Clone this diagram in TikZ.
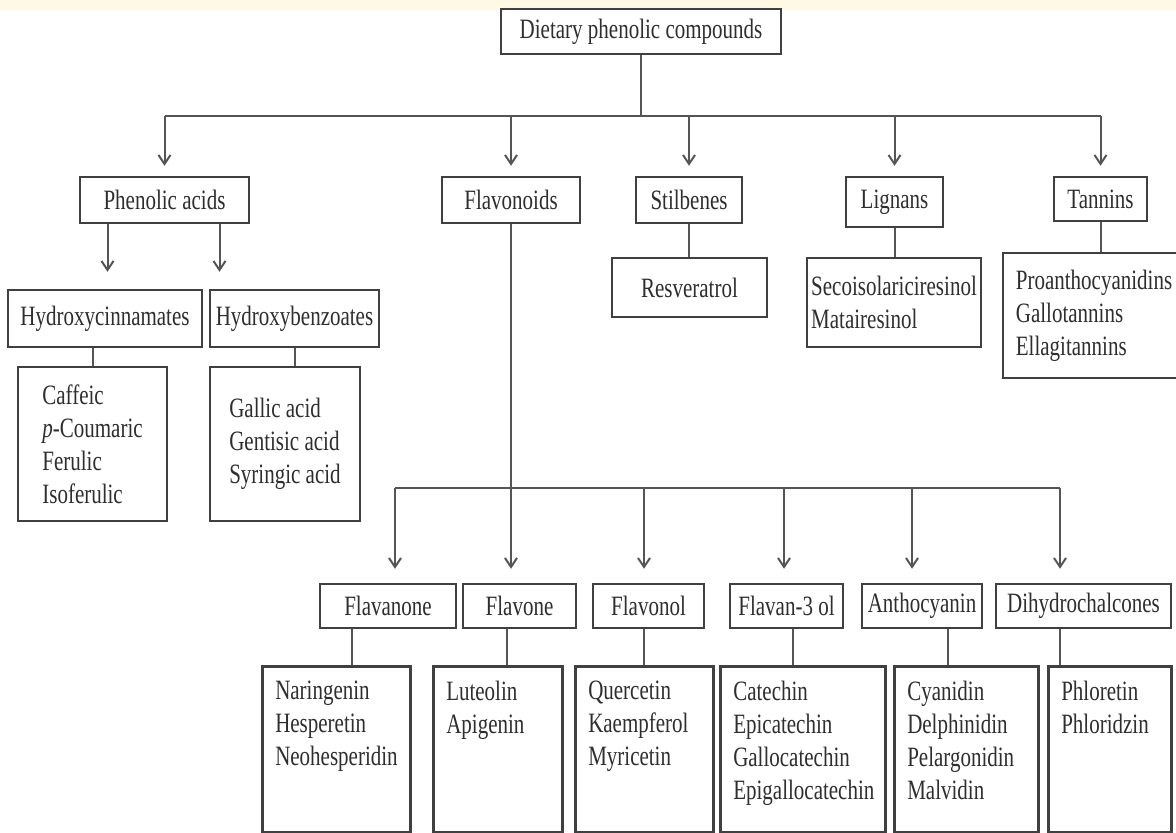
\documentclass[tikz,border=0pt]{standalone}
\usepackage{fontspec}
\setmainfont{Liberation Serif}[FakeStretch=0.75]
\usetikzlibrary{arrows.meta}
\hyphenpenalty=10000
\definecolor{boxc}{HTML}{404040}
\definecolor{linec}{HTML}{555555}
\definecolor{txtc}{HTML}{2E2E2E}
\definecolor{cream}{HTML}{FFF8E4}

\tikzset{
    box/.style={draw=boxc, line width=2.5pt, fill=white, inner sep=0pt,
        text=txtc, font=\fontsize{28}{33}\selectfont},
    listbox/.style={box, align=left},
    tallbox/.style={box, anchor=north west, align=left,
        inner xsep=13pt, inner ysep=15pt, text depth=117pt},
    wire/.style={draw=linec, line width=2pt},
    flow/.style={wire, -{Straight Barb[length=9pt,width=12pt]}},
}

\begin{document}
\begin{tikzpicture}[x=1pt, y=-1pt]

    \useasboundingbox (0,0) rectangle (1176,833);
    \clip (0,0) rectangle (1176,833);
    \fill [white] (0,0) rectangle (1176,833);
    \fill [cream] (0,0) rectangle (1176,9.5);

    \node [box, minimum width=280, minimum height=45] (root) at (641,31.5) {Dietary phenolic compounds};

    \node [box, minimum width=169, minimum height=46] (phen) at (164.5,200) {Phenolic acids};
    \node [box, minimum width=138, minimum height=46] (flav) at (511,200) {Flavonoids};
    \node [box, minimum width=106, minimum height=46] (stil) at (689,200) {Stilbenes};
    \node [box, minimum width=97, minimum height=50] (lign) at (894.5,202) {Lignans};
    \node [box, minimum width=93, minimum height=44] (tann) at (1100.5,199) {Tannins};

    \node [box, minimum width=194, minimum height=57] (hcin) at (105,318.5) {Hydroxycinnamates};
    \node [box, minimum width=169, minimum height=57] (hben) at (294.5,318.5) {Hydroxybenzoates};

    \node [listbox, minimum width=149, minimum height=154] (caff) at (92.5,444)
        {Caffeic\\\textit{p}-Coumaric\\Ferulic\\Isoferulic};
    \node [listbox, minimum width=150, minimum height=154] (gall) at (285,444)
        {Gallic acid\\Gentisic acid\\Syringic acid};
    \node [listbox, minimum width=155, minimum height=59] (resv) at (689.5,287.5) {Resveratrol};
    \node [listbox, minimum width=174, minimum height=89] (seco) at (894,302.5)
        {Secoisolariciresinol\\Matairesinol};
    \node [listbox, minimum width=182, minimum height=125] (proa) at (1094,315.5)
        {Proanthocyanidins\\Gallotannins\\Ellagitannins};

    \node [box, minimum width=136, minimum height=44] (fnon) at (388,606) {Flavanone};
    \node [box, minimum width=113, minimum height=44] (fone) at (519.5,606) {Flavone};
    \node [box, minimum width=111, minimum height=44] (fnol) at (648.5,606) {Flavonol};
    \node [box, minimum width=113, minimum height=44] (fan3) at (786.5,606) {Flavan-3 ol};
    \node [box, minimum width=120, minimum height=44] (anth) at (922,606) {Anthocyanin};
    \node [box, minimum width=175, minimum height=44] (dihy) at (1083.5,606) {Dihydrochalcones};

    \node [tallbox, minimum width=148, text width=122] (nari) at (261,665)
        {Naringenin\\Hesperetin\\Neohesperidin};
    \node [tallbox, minimum width=129, text width=103] (lute) at (432,665)
        {Luteolin\\Apigenin};
    \node [tallbox, minimum width=138, text width=112] (quer) at (574,665)
        {Quercetin\\Kaempferol\\Myricetin};
    \node [tallbox, minimum width=165, text width=139] (cate) at (719,665)
        {Catechin\\Epicatechin\\Gallocatechin\\Epigallocatechin};
    \node [tallbox, minimum width=144, text width=118] (cyan) at (893,665)
        {Cyanidin\\Delphinidin\\Pelargonidin\\Malvidin};
    \node [tallbox, minimum width=123, text width=97] (phlo) at (1047,665)
        {Phloretin\\Phloridzin};

    \coordinate (bus1) at (641,116);
    \coordinate (bus2) at (511,488);

    \draw [wire] (root.south) -- (bus1);
    \draw [wire] (phen.north |- bus1) -- (tann.north |- bus1);
    \foreach \n in {phen,flav,stil,lign,tann}
        \draw [flow, shorten >=10pt] (\n.north |- bus1) -- (\n.north);

    \draw [flow, shorten >=17pt] ([xshift=-57pt]phen.south) -- ([xshift=-57pt]phen.south |- hcin.north);
    \draw [flow, shorten >=17pt] ([xshift=55pt]phen.south) -- ([xshift=55pt]phen.south |- hben.north);

    \draw [wire] (caff.north |- hcin.south) -- (caff.north);
    \draw [wire] (hben.south) -- (hben.south |- gall.north);
    \draw [wire] (stil.south) -- (stil.south |- resv.north);
    \draw [wire] (lign.south) -- (lign.south |- seco.north);
    \draw [wire] (tann.south) -- (tann.south |- proa.north);

    \draw [wire] (flav.south) -- (bus2);
    \draw [wire] ([xshift=7pt]fnon.north |- bus2) -- ([xshift=-23.5pt]dihy.north |- bus2);
    \foreach \n/\dx in {fnon/7, fone/-8.5, fnol/-4.5, fan3/-2.5, anth/-10, dihy/-23.5}
        \draw [flow, shorten >=14pt] ([xshift=\dx pt]\n.north |- bus2) -- ([xshift=\dx pt]\n.north);

    \foreach \a/\b/\dx in {fnon/nari/-36, fone/lute/-12.5, fnol/quer/-4.5, fan3/cate/6.5, anth/cyan/26, dihy/phlo/-23.5}
        \draw [wire] ([xshift=\dx pt]\a.south) -- ([xshift=\dx pt]\a.south |- \b.north);

\end{tikzpicture}
\end{document}
